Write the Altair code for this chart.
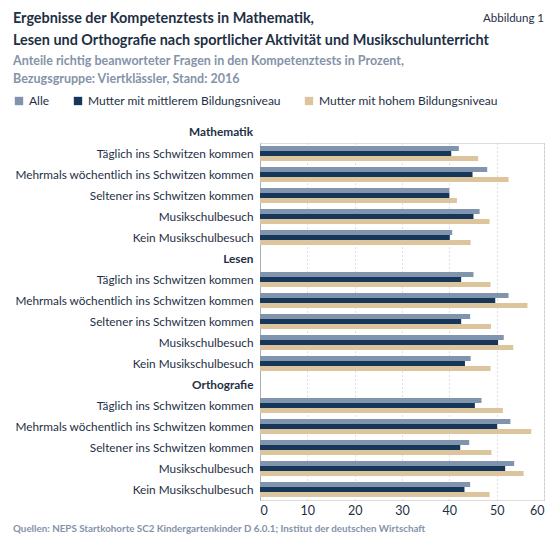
import altair as alt
import pandas as pd

FONT = "Lato"
DARK = "#1e2f45"
GRAYTXT = "#8493a8"

rows = [
    "Täglich ins Schwitzen kommen",
    "Mehrmals wöchentlich ins Schwitzen kommen",
    "Seltener ins Schwitzen kommen",
    "Musikschulbesuch",
    "Kein Musikschulbesuch",
]
subjects = ["Mathematik", "Lesen", "Orthografie"]
series = ["Alle", "Mutter mit mittlerem Bildungsniveau", "Mutter mit hohem Bildungsniveau"]
colors = ["#8094ae", "#17375a", "#dcc49c"]

# values per subject: rows x series (Alle, mittel, hoch)
math_alle = [42.0, 48.0, 40.0, 46.4, 40.6]
math_mittel = [40.4, 44.9, 40.0, 45.1, 40.1]
math_hoch = [46.1, 52.5, 41.6, 48.5, 44.5]

lesen_alle = [45.1, 52.5, 44.4, 51.5, 44.5]
lesen_mittel = [42.5, 49.7, 42.5, 50.3, 43.3]
lesen_hoch = [48.7, 56.5, 48.8, 53.5, 48.7]

ortho_alle = [46.8, 52.9, 44.2, 53.7, 44.4]
ortho_mittel = [45.4, 50.1, 42.3, 51.8, 43.2]
ortho_hoch = [51.3, 57.3, 48.9, 55.7, 48.5]

vals = {
    "Mathematik": [math_alle, math_mittel, math_hoch],
    "Lesen": [lesen_alle, lesen_mittel, lesen_hoch],
    "Orthografie": [ortho_alle, ortho_mittel, ortho_hoch],
}

recs = []
domain = []
for s in subjects:
    if s != "Mathematik":
        domain.append(s)
    for i, r in enumerate(rows):
        key = s + "|" + r
        domain.append(key)
        for j, ser in enumerate(series):
            recs.append({"key": key, "series": ser, "value": vals[s][j][i]})
df = pd.DataFrame(recs)

W, H = 284, 357

bars = alt.Chart(df).mark_bar().encode(
    x=alt.X("value:Q", scale=alt.Scale(domain=[0, 60], nice=False, zero=True),
            axis=alt.Axis(values=[0, 10, 20, 30, 40, 50, 60], title=None, domain=False,
                          ticks=False, grid=True, gridDash=[1, 3], gridColor="#b8c0ca",
                          labelFontSize=12.5, labelColor=DARK, labelPadding=4, labelFont=FONT)),
    y=alt.Y("key:N", sort=domain,
            scale=alt.Scale(domain=domain, paddingInner=0.29, paddingOuter=0.145),
            axis=alt.Axis(title=None, ticks=False, domain=True, domainColor="#a9b1bc",
                          labelExpr="split(datum.label, '|')[1] || datum.label",
                          labelFontWeight={"condition": {"test": "indexof(datum.value, '|') < 0",
                                                         "value": "bold"}, "value": "normal"},
                          labelFontSize=11.8, labelColor=DARK, labelPadding=7,
                          labelLimit=400, labelFont=FONT)),
    yOffset=alt.YOffset("series:N", sort=series, scale=alt.Scale(paddingInner=0, paddingOuter=0)),
    color=alt.Color("series:N", sort=series,
                    scale=alt.Scale(domain=series, range=colors),
                    legend=alt.Legend(title=None, orient="none", legendX=-247, legendY=-48,
                                      direction="horizontal", symbolType="square",
                                      symbolSize=70, symbolStrokeWidth=0, labelFontSize=12,
                                      labelColor=DARK, labelFont=FONT, columnPadding=22,
                                      gridAlign="none", labelLimit=300, labelOffset=4)),
)

def text_layer(txt, px, py, size, weight, color, align="left", lh=None):
    kw = dict(align=align, baseline="alphabetic", font=FONT, fontSize=size,
              fontWeight=weight, color=color)
    if lh is not None:
        kw.update(lineBreak="\n", lineHeight=lh)
    return alt.Chart(pd.DataFrame({"t": [txt]})).mark_text(**kw).encode(
        x=alt.value(px), y=alt.value(py), text="t:N")

title_txt = "Ergebnisse der Kompetenztests in Mathematik,\nLesen und Orthografie nach sportlicher Aktivität und Musikschulunterricht"
sub_txt = "Anteile richtig beanworteter Fragen in den Kompetenztests in Prozent,\nBezugsgruppe: Viertklässler, Stand: 2016"
src_txt = "Quellen: NEPS Startkohorte SC2 Kindergartenkinder D 6.0.1; Institut der deutschen Wirtschaft"

t_title = text_layer(title_txt, -247, -120, 14.4, "bold", DARK, lh=22)
t_sub = text_layer(sub_txt, -247, -78, 12.5, "bold", GRAYTXT, lh=18)
t_abb = text_layer("Abbildung 1", 284, -121, 11.5, "normal", DARK, align="right")
t_math = text_layer("Mathematik", -7, -7, 11.8, "bold", DARK, align="right")
t_src = text_layer(src_txt, -247, 389, 9.8, "bold", GRAYTXT)

chart = alt.layer(bars, t_title, t_sub, t_abb, t_math, t_src).properties(
    width=W, height=H,
    padding={"left": 5, "right": 5, "top": 3, "bottom": 0},
).configure_view(stroke=None).configure(font=FONT, background="white")

chart.save("out.html", embed_options={"renderer": "svg", "actions": False})
